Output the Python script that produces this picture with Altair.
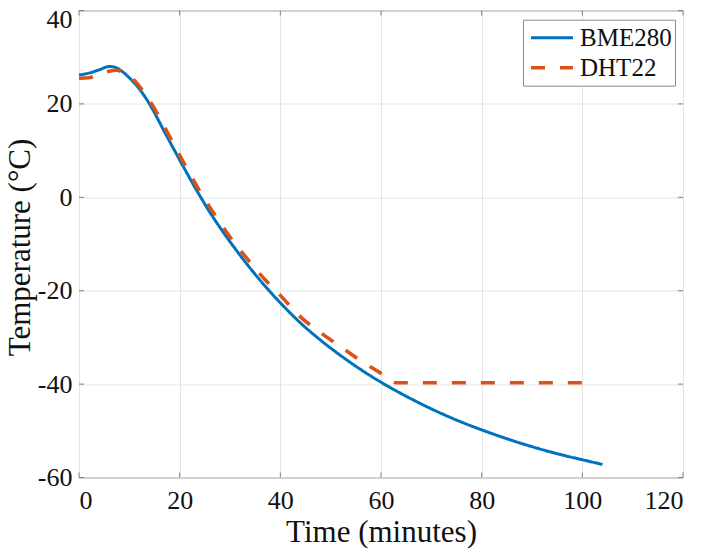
import altair as alt
import pandas as pd

# BME280 (solid blue)
bme_time = [0, 2, 4, 6, 7, 8.5, 10, 12, 14, 17, 20, 23, 26, 29, 32, 36, 40, 44, 48, 52, 56,
            60, 65, 70, 75, 80, 85, 90, 95, 100, 104]
bme_temp = [26.2, 26.6, 27.3, 28.0, 27.9, 27.0, 25.6, 23.2, 20.0, 14.0, 8.0, 2.2, -3.2, -8.0,
            -12.4, -17.8, -22.6, -26.9, -30.6, -33.9, -36.9, -39.6, -42.6, -45.3, -47.7,
            -49.8, -51.7, -53.4, -54.9, -56.2, -57.2]

# DHT22 (dashed orange)
dht_time = [0, 2, 4, 6, 7.5, 9, 11, 13, 15, 18, 21, 24, 27, 30, 33, 36, 40, 44, 48, 52, 56,
            60, 63, 102]
dht_temp = [25.5, 25.6, 26.4, 27.0, 27.2, 26.6, 25.0, 22.3, 19.0, 13.0, 7.0, 1.3, -3.8, -8.5,
            -12.6, -16.5, -21.0, -25.6, -29.0, -32.0, -35.0, -37.7, -39.7, -39.7]

series_names = ["BME280", "DHT22"]
series_colors = ["#0072BD", "#D95319"]
x_ticks = [0, 20, 40, 60, 80, 100, 120]
y_ticks = [-60, -40, -20, 0, 20, 40]

W, H = 604, 467
FONT = "Liberation Serif"
FRAME = "#808080"

df = pd.concat([
    pd.DataFrame({"series": "BME280", "t": bme_time, "temp": bme_temp, "order": range(len(bme_time))}),
    pd.DataFrame({"series": "DHT22", "t": dht_time, "temp": dht_temp, "order": range(len(dht_time))}),
])

xscale = alt.Scale(domain=[0, 120], nice=False, zero=False)
yscale = alt.Scale(domain=[-60, 40], nice=False, zero=False)

x_axis = alt.Axis(values=x_ticks, title="Time (minutes)", grid=True, ticks=False,
                  domain=False, labelPadding=10, titleY=64, titleBaseline="alphabetic",
                  labelExpr="datum.value")
y_axis = alt.Axis(values=y_ticks, title="Temperature (°C)", grid=True, ticks=False,
                  domain=False, labelPadding=7, titleX=-50, titleY=H / 2 + 3,
                  titleAngle=270, titleBaseline="alphabetic", titleAlign="center",
                  labelExpr="datum.value",
                  labelOffset={"condition": {"test": "datum.value == 40", "value": 9}, "value": 0})

lines = alt.Chart(df).mark_line(interpolate="monotone").encode(
    x=alt.X("t:Q", scale=xscale, axis=x_axis, title="Time (minutes)"),
    y=alt.Y("temp:Q", scale=yscale, axis=y_axis, title="Temperature (°C)"),
    color=alt.Color("series:N", scale=alt.Scale(domain=series_names, range=series_colors),
                    legend=alt.Legend(title=None)),
    strokeDash=alt.StrokeDash("series:N",
                              scale=alt.Scale(domain=series_names, range=[[1, 0], [14, 15]]),
                              legend=alt.Legend(title=None)),
    strokeWidth=alt.StrokeWidth("series:N",
                                scale=alt.Scale(domain=series_names, range=[3, 3.6]),
                                legend=None),
    order="order:Q",
)

xt = pd.DataFrame({"v": x_ticks})
yt = pd.DataFrame({"v": y_ticks})

def xenc():
    return alt.X("v:Q", scale=xscale, axis=x_axis, title="Time (minutes)")

def yenc():
    return alt.Y("v:Q", scale=yscale, axis=y_axis, title="Temperature (°C)")

tick_bottom = alt.Chart(xt).mark_rule(color=FRAME, strokeWidth=1).encode(
    x=xenc(), y=alt.value(H), y2=alt.value(H - 5))
tick_top = alt.Chart(xt).mark_rule(color=FRAME, strokeWidth=1).encode(
    x=xenc(), y=alt.value(0), y2=alt.value(5))
tick_left = alt.Chart(yt).mark_rule(color=FRAME, strokeWidth=1).encode(
    y=yenc(), x=alt.value(0), x2=alt.value(5))
tick_right = alt.Chart(yt).mark_rule(color=FRAME, strokeWidth=1).encode(
    y=yenc(), x=alt.value(W), x2=alt.value(W - 5))

chart = alt.layer(lines, tick_bottom, tick_top, tick_left, tick_right).properties(
    width=W, height=H,
    autosize=alt.AutoSizeParams(type="none"),
    padding={"left": 71, "top": 2.5, "right": 8, "bottom": 70},
).configure_view(
    stroke=FRAME, strokeWidth=1
).configure_axis(
    gridColor="#e4e4e4", gridWidth=1,
    labelFont=FONT, labelFontSize=26, labelColor="#111111",
    titleFont=FONT, titleFontSize=31, titleFontWeight="normal", titleColor="#111111",
).configure_legend(
    orient="none", legendX=444, legendY=9.2,
    strokeColor="#8c8c8c", fillColor="white", padding=3, symbolOffset=3,
    symbolType="stroke", symbolSize=1764, symbolStrokeWidth=3,
    labelFont=FONT, labelFontSize=25, labelColor="#111111", labelOffset=5,
    clipHeight=30, rowPadding=0,
)

chart.save("out.html", embed_options={"renderer": "svg", "actions": False})
